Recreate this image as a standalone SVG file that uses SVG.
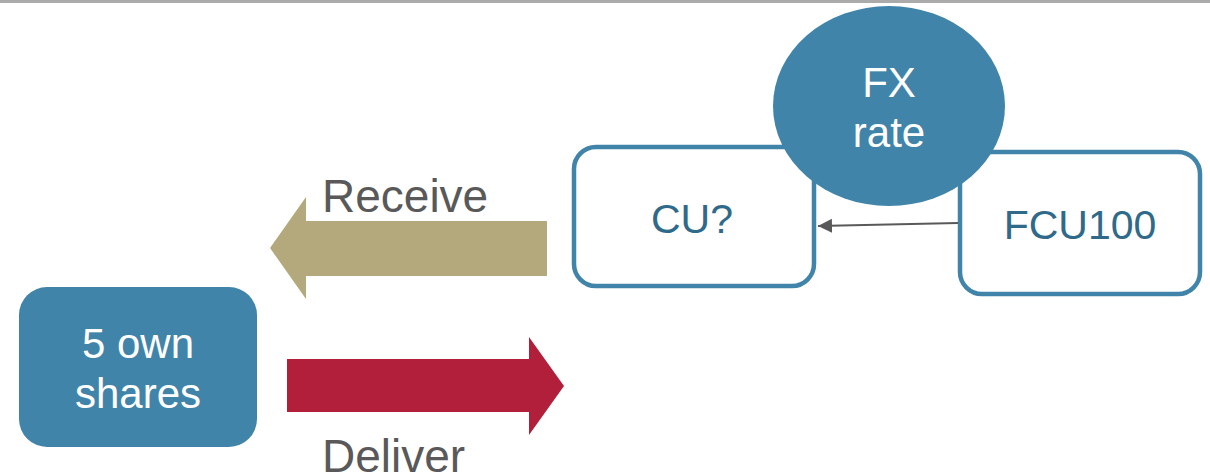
<svg xmlns="http://www.w3.org/2000/svg" width="1210" height="476" viewBox="0 0 1210 476">
<defs>
<style>
text{font-family:"Liberation Sans",Arial,sans-serif;text-anchor:middle}
.box{fill:#fff;stroke:#4184AA;stroke-width:4.5}
.lbl{fill:#2F6A8A;font-size:41px}
.wt{fill:#fff;font-size:42px}
.gt{fill:#595959;font-size:46px;text-anchor:start}
</style>
<marker id="ah" markerWidth="8" markerHeight="8" refX="7" refY="4" orient="auto" markerUnits="strokeWidth">
<path d="M0,0.5 L7,4 L0,7.5 z" fill="#595959"/>
</marker>
</defs>
<rect x="0" y="0" width="1210" height="3" fill="#ABABAB"/>
<g id="own-shares">
<rect x="19" y="287" width="238" height="160" rx="28" fill="#4184AA"/>
<text class="wt" x="138" y="358">5 own</text>
<text class="wt" x="138" y="408">shares</text>
</g>
<g id="receive">
<polygon points="547,221 306,221 306,197 270,248 306,299 306,276 547,276" fill="#B3A97C"/>
<text class="gt" x="322" y="212">Receive</text>
</g>
<g id="deliver">
<polygon points="287,359 529,359 529,337 564,386 529,435 529,412 287,412" fill="#B21F3A"/>
<text class="gt" x="322" y="472">Deliver</text>
</g>
<g id="cu">
<rect class="box" x="574" y="147" width="240" height="139" rx="22"/>
<text class="lbl" x="692" y="233">CU?</text>
</g>
<g id="fcu100">
<rect class="box" x="960" y="152" width="240" height="142" rx="22"/>
<text class="lbl" x="1080" y="239">FCU100</text>
</g>
<g id="fx-rate">
<ellipse cx="889" cy="106" rx="116" ry="100" fill="#4184AA"/>
<text class="wt" x="889" y="97">FX</text>
<text class="wt" x="889" y="147">rate</text>
</g>
<g id="connectors">
<line x1="958" y1="223" x2="818" y2="226" stroke="#595959" stroke-width="2" marker-end="url(#ah)"/>
</g>
</svg>
